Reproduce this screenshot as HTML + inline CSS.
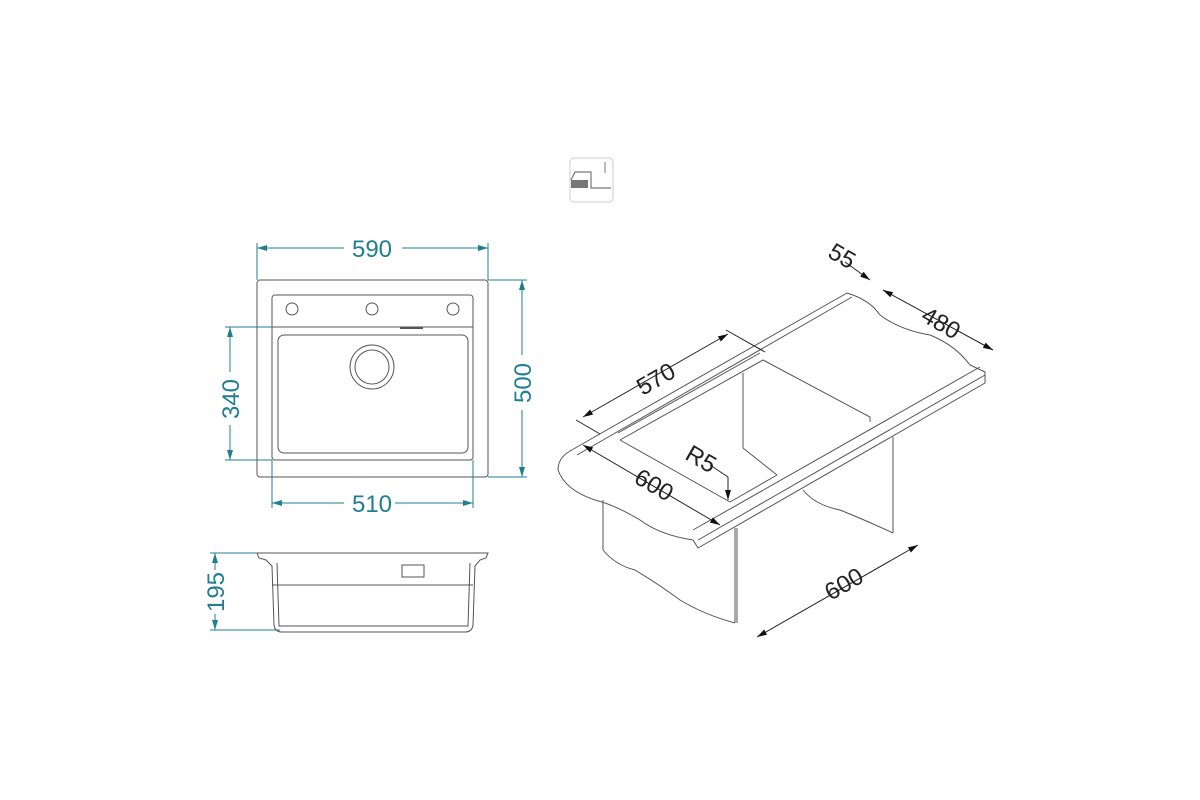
<!DOCTYPE html>
<html><head><meta charset="utf-8"><style>
html,body{margin:0;padding:0;background:#fff;width:1200px;height:800px;overflow:hidden}
svg{display:block}
.t{fill:#1f7f90;font-family:"Liberation Sans",sans-serif;font-size:24px}
.k{fill:#222;font-family:"Liberation Sans",sans-serif;font-size:24px}
</style></head><body>
<svg width="1200" height="800" viewBox="0 0 1200 800" xmlns="http://www.w3.org/2000/svg">
<defs>
<marker id="a" viewBox="0 0 10 6" refX="10" refY="3" markerWidth="10" markerHeight="6" orient="auto-start-reverse" markerUnits="userSpaceOnUse"><path d="M0,0L10,3L0,6z" fill="#1f7f90"/></marker>
<marker id="b" viewBox="0 0 10 6" refX="10" refY="3" markerWidth="10" markerHeight="6" orient="auto-start-reverse" markerUnits="userSpaceOnUse"><path d="M0,0L10,3L0,6z" fill="#111"/></marker>
</defs>
<!-- icon -->
<rect x="570" y="158" width="43" height="44" rx="4" fill="none" stroke="#ccc"/>
<path d="M571,180 L575,172 L591,172 L591,188 L611,188" fill="none" stroke="#777" stroke-width="1.2"/>
<rect x="571" y="180" width="17" height="8" fill="#777"/>
<line x1="605" y1="162" x2="605" y2="173" stroke="#777"/>
<!-- top view -->
<g fill="none" stroke="#555" stroke-width="1">
<rect x="257" y="280" width="231" height="197" rx="3"/>
<rect x="272" y="295" width="201" height="165" rx="3"/>
<line x1="272" y1="327" x2="473" y2="327"/>
<rect x="278" y="335" width="190" height="118" rx="6"/>
<circle cx="292" cy="309" r="6"/><circle cx="372" cy="309" r="6"/><circle cx="453" cy="309" r="6"/>
<circle cx="372" cy="367" r="22"/><circle cx="372" cy="367" r="17"/>
<line x1="400" y1="328" x2="423" y2="328" stroke-width="2"/>
</g>
<g stroke="#1f7f90" stroke-width="1" fill="none">
<line x1="257" y1="243" x2="257" y2="280"/><line x1="488" y1="243" x2="488" y2="280"/>
<line x1="257" y1="248" x2="344" y2="248" marker-start="url(#a)"/><line x1="402" y1="248" x2="488" y2="248" marker-end="url(#a)"/>
<line x1="488" y1="280" x2="527" y2="280"/><line x1="488" y1="477" x2="527" y2="477"/>
<line x1="522" y1="280" x2="522" y2="355" marker-start="url(#a)"/><line x1="522" y1="410" x2="522" y2="477" marker-end="url(#a)"/>
<line x1="225" y1="327" x2="272" y2="327"/><line x1="225" y1="460" x2="272" y2="460"/>
<line x1="230" y1="327" x2="230" y2="372" marker-start="url(#a)"/><line x1="230" y1="425" x2="230" y2="460" marker-end="url(#a)"/>
<line x1="272" y1="460" x2="272" y2="508"/><line x1="473" y1="460" x2="473" y2="508"/>
<line x1="272" y1="503" x2="344" y2="503" marker-start="url(#a)"/><line x1="395" y1="503" x2="473" y2="503" marker-end="url(#a)"/>
<line x1="210" y1="553" x2="257" y2="553"/><line x1="210" y1="630" x2="280" y2="630"/>
<line x1="215" y1="553" x2="215" y2="570" marker-start="url(#a)"/><line x1="215" y1="614" x2="215" y2="630" marker-end="url(#a)"/>
</g>
<text class="t" x="372" y="257" text-anchor="middle">590</text>
<text class="t" x="372" y="512" text-anchor="middle">510</text>
<text class="t" transform="translate(531,383) rotate(-90)" text-anchor="middle">500</text>
<text class="t" transform="translate(239,399) rotate(-90)" text-anchor="middle">340</text>
<text class="t" transform="translate(224,592) rotate(-90)" text-anchor="middle">195</text>
<!-- side view -->
<g fill="none" stroke="#555" stroke-width="1">
<path d="M257,553 L488,553 L486,558 L480,560 L475,566 L473,625 Q472,632 465,632 L282,632 Q275,632 274,625 L272,566 L266,560 L259,558 Z"/>
<line x1="272" y1="585" x2="473" y2="585"/>
<path d="M277,563 L279,626 L468,626 L470,563"/>
<rect x="402" y="565" width="22" height="12"/>
</g>
<!-- iso view -->
<g fill="none" stroke="#555" stroke-width="1">
<path d="M570,451 L847,293 Q870,300 880,315 Q900,330 930,335 Q955,345 970,365 L985,372 L985,383 L698,548 L693,540 Q660,535 640,520 Q615,505 595,500 Q565,490 558,470 Q558,458 570,451"/>
<line x1="693" y1="530" x2="980" y2="367"/>
<line x1="698" y1="540" x2="985" y2="375"/>
<line x1="577" y1="455" x2="852" y2="297"/>
<line x1="618" y1="433" x2="760" y2="353"/>
<path d="M620,440 L763,360 L870,417 L870,422"/>
<line x1="620" y1="440" x2="730" y2="502"/>
<line x1="730" y1="502" x2="777" y2="475"/>
<line x1="743" y1="373" x2="743" y2="448"/><line x1="743" y1="448" x2="777" y2="475"/>
<line x1="603" y1="500" x2="603" y2="550"/>
<line x1="735" y1="528" x2="735" y2="623"/><line x1="737" y1="528" x2="737" y2="623"/>
<line x1="893" y1="437" x2="893" y2="533"/>
<path d="M603,550 Q615,565 635,570 Q660,585 680,600 Q705,615 735,623"/>
<path d="M803,490 Q815,505 840,510 Q865,520 893,533"/>
</g>
<g stroke="#222" stroke-width="1" fill="none">
<line x1="576" y1="420" x2="600" y2="434"/>
<line x1="726" y1="330" x2="765" y2="352"/>
<line x1="583" y1="417" x2="728" y2="334" marker-start="url(#b)" marker-end="url(#b)"/>
<line x1="583" y1="445" x2="720" y2="525" marker-start="url(#b)" marker-end="url(#b)"/>
<line x1="845" y1="262" x2="870" y2="280" marker-end="url(#b)"/>
<line x1="883" y1="290" x2="993" y2="350" marker-start="url(#b)" marker-end="url(#b)"/>
<line x1="757" y1="637" x2="918" y2="545" marker-start="url(#b)" marker-end="url(#b)"/>
<line x1="710" y1="465" x2="728" y2="477"/><line x1="728" y1="477" x2="728" y2="500" marker-end="url(#b)"/>
</g>
<text class="k" transform="translate(660,386) rotate(-30)" text-anchor="middle">570</text>
<text class="k" transform="translate(650,492) rotate(30)" text-anchor="middle">600</text>
<text class="k" transform="translate(838,263) rotate(30)" text-anchor="middle">55</text>
<text class="k" transform="translate(937,330) rotate(30)" text-anchor="middle">480</text>
<text class="k" transform="translate(848,591) rotate(-30)" text-anchor="middle">600</text>
<text class="k" transform="translate(697,466) rotate(30)" text-anchor="middle">R5</text>
</svg>
</body></html>
